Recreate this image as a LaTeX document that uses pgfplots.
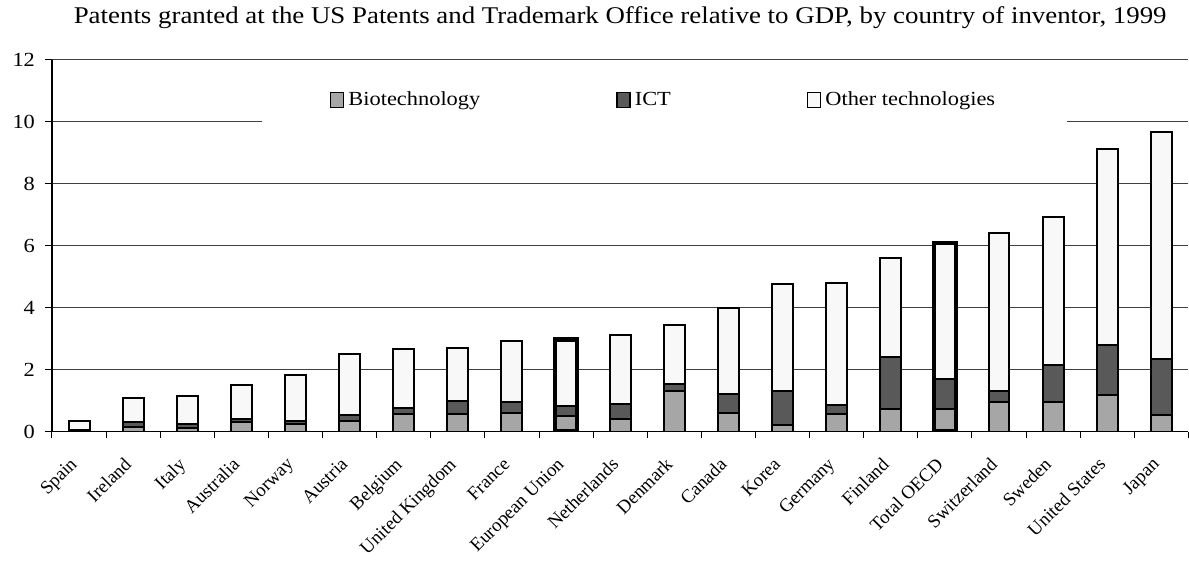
\documentclass[border=0pt]{standalone}
\usepackage{fontspec}
\setmainfont[FakeStretch=1.12]{Liberation Serif}
\newfontfamily\labelfont{Liberation Serif}
\usepackage{pgfplots}
\pgfplotsset{compat=1.18}
\definecolor{bio}{HTML}{A6A6A6}
\definecolor{ict}{HTML}{595959}
\definecolor{oth}{HTML}{F8F8F8}
\pgfplotstableread{
x bio ict oth
0 0.02 0.04 0.29
1 0.15 0.17 0.78
2 0.13 0.12 0.91
3 0.31 0.10 1.09
4 0.24 0.10 1.50
5 0.33 0.20 1.99
6 0.57 0.19 1.92
7 0.57 0.41 1.73
8 0.60 0.35 1.98
9 0.51 0.30 2.17
10 0.42 0.46 2.23
11 1.31 0.22 1.92
12 0.61 0.60 2.77
13 0.20 1.10 3.47
14 0.58 0.27 3.96
15 0.74 1.68 3.17
16 0.74 0.97 4.37
17 0.97 0.34 5.09
18 0.97 1.17 4.80
19 1.18 1.60 6.33
20 0.54 1.79 7.34
}\data
\pgfplotsset{
  common/.style={
    width=568.5pt, height=186pt, scale only axis,
    xmin=-0.5, xmax=20.5, ymin=0, ymax=12,
  }
}
\begin{document}
\begin{tikzpicture}
\begin{axis}[
  common,
  ybar stacked, bar width=10.5pt,
  axis lines=left, axis line style={-, line width=0.6pt},
  tick align=outside,
  ytick={0,2,...,12}, ymajorgrids,
  grid style={black!75, line width=0.6pt},
  major tick length=3.5pt, minor tick length=3pt,
  tick style={black, line width=0.5pt},
  xtick={0,...,20},
  major x tick style={draw=none},
  minor xtick={-0.5,0.5,...,20.5},
  xticklabels={Spain,Ireland,Italy,Australia,Norway,Austria,Belgium,United Kingdom,France,European Union,Netherlands,Denmark,Canada,Korea,Germany,Finland,Total OECD,Switzerland,Sweden,United States,Japan},
  xticklabel shift=4pt,
  xticklabel style={xshift=-5pt, rotate=45, anchor=north east, font=\labelfont\fontsize{9.4}{11}\selectfont},
  yticklabel style={font=\fontsize{10}{12}\selectfont, xshift=-1.5pt},
  /pgf/number format/assume math mode=true,
  title={Patents granted at the US Patents and Trademark Office relative to GDP, by country of inventor, 1999},
  title style={font=\fontsize{12}{14}\selectfont, yshift=6pt},
  legend style={at={(0.539,0.892)}, anchor=center, legend columns=3, draw=none, fill=white,
    inner xsep=34pt, inner ysep=8pt, font=\fontsize{10}{12}\selectfont,
    /tikz/every even column/.append style={column sep=66pt}},
  every axis plot post/.append style={legend image code/.code={\draw[#1, line width=0.8pt] (0pt,-3.8pt) rectangle (6.5pt,3.8pt);}},
]
\addplot[fill=bio, draw=black, line width=1pt] table[x=x, y=bio] {\data};
\addplot[fill=ict, draw=black, line width=1pt] table[x=x, y=ict] {\data};
\addplot[fill=oth, draw=black, line width=1pt] table[x=x, y=oth] {\data};
\legend{Biotechnology, ICT, Other technologies}
\end{axis}
\begin{axis}[common, hide axis, ybar, bar width=11pt]
\addplot[fill=none, draw=black, line width=2.3pt] coordinates {(9,2.98) (16,6.08)};
\end{axis}
\path (-26pt,-66pt) rectangle (568.5pt,214.5pt);
\end{tikzpicture}
\end{document}
